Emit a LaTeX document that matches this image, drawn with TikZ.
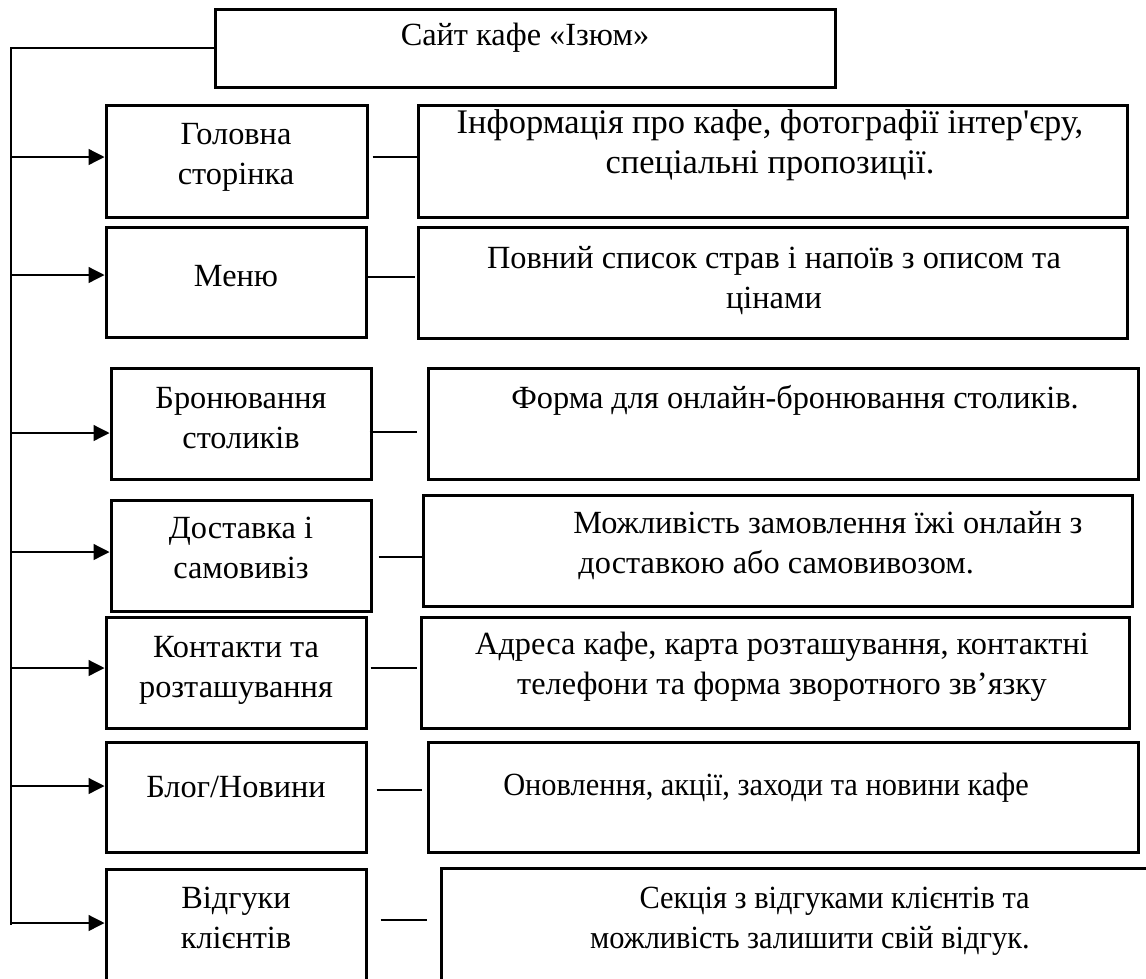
\documentclass[tikz,border=0pt]{standalone}
\usepackage{fontspec}
\setmainfont{Liberation Serif}[Ligatures=TeXOff]
\usetikzlibrary{arrows.meta,fit}

\begin{document}
\begin{tikzpicture}[x=0.2mm,y=-0.2mm,>={Triangle[length=3.2mm,width=3.2mm]},
	bx/.style={draw,line width=0.6mm,inner sep=0pt},
	ln/.style={line width=0.26mm},
	txt/.style={align=center,inner sep=0pt,font=\fontsize{18.4}{22.8}\selectfont},
	narrow/.style={transform shape,xscale=0.94}]
		\useasboundingbox (0,0) rectangle (1146,978);
		% boxes
		\node[bx,fit={(215,9) (835,87)}] (t) {};
		\node[bx,fit={(106,105) (367,217)}] (l1) {};\node[bx,fit={(418,105) (1127,217)}] (r1) {};
		\node[bx,fit={(106,227) (366,337)}] (l2) {};\node[bx,fit={(418,227) (1127,338)}] (r2) {};
		\node[bx,fit={(111,368) (371,479)}] (l3) {};\node[bx,fit={(428,368) (1138,479)}] (r3) {};
		\node[bx,fit={(111,500) (371,611)}] (l4) {};\node[bx,fit={(423,495) (1132,606)}] (r4) {};
		\node[bx,fit={(106,617) (366,728)}] (l5) {};\node[bx,fit={(421,617) (1129,728)}] (r5) {};
		\node[bx,fit={(106,742) (366,852)}] (l6) {};\node[bx,fit={(428,742) (1138,852)}] (r6) {};
		\node[bx,fit={(106,869) (366,1010)}] (l7) {};\node[bx,fit={(441,868) (1170,1010)}] (r7) {};
		% texts
		\node[txt] (t0) at (525,38) {Сайт кафе «Ізюм»};
		\node[txt] (a1) at (236,157) {Головна\\сторінка};\node[txt,font=\fontsize{19.6}{22.8}\selectfont] (b1) at (770,145) {Інформація про кафе, фотографії інтер'єру,\\спеціальні пропозиції.};
		\node[txt] (a2) at (236,276) {Меню};\node[txt] (b2) at (774,281) {Повний список страв і напоїв з описом та\\цінами};
		\node[txt] (a3) at (241,418) {Бронювання\\столиків};\node[txt] (b3) at (795,400) {Форма для онлайн-бронювання столиків.};
		\node[txt] (a4) at (241,548) {Доставка і\\самовивіз};\node[txt,align=left,anchor=west] (b4) at (573,546) {Можливість замовлення їжі онлайн з\\\hspace{1mm}доставкою або самовивозом.};
		\node[txt] (a5) at (236,670) {Контакти та\\розташування};\node[txt] (b5) at (782,667) {Адреса кафе, карта розташування, контактні\\телефони та форма зворотного зв’язку};
		\node[txt] (a6) at (236,787) {Блог/Новини};\node[txt,narrow] (b6) at (766,788) {Оновлення, акції, заходи та новини кафе};
		\node[txt] (a7) at (236,918) {Відгуки\\клієнтів};\node[txt,narrow,align=right,anchor=east] (b7) at (1030,921) {Секція з відгуками клієнтів та\\можливість залишити свій відгук.};
		% spine and arrows
		\coordinate (sp) at (11,48);\coordinate (se) at (11,925);
		\draw[ln] (t.west) -- (sp) -- (se);
		\draw[ln,->] (sp |- 0,157) -- (l1.west |- 0,157);\draw[ln,->] (sp |- 0,275) -- (l2.west |- 0,275);
		\draw[ln,->] (sp |- 0,433) -- (l3.west |- 0,433);\draw[ln,->] (sp |- 0,552) -- (l4.west |- 0,552);
		\draw[ln,->] (sp |- 0,668) -- (l5.west |- 0,668);\draw[ln,->] (sp |- 0,786) -- (l6.west |- 0,786);
		\draw[ln,->] (sp |- 0,923) -- (l7.west |- 0,923);
		% links
		\draw[ln] ([xshift=0.8mm]l1.east |- 0,157) -- ([xshift=0.4mm]r1.west |- 0,157);
		\draw[ln] (l2.east |- 0,277) -- ([xshift=-0.4mm]r2.west |- 0,277);
		\draw[ln] ([xshift=-0.6mm]l3.east |- 0,432) -- ([xshift=-2mm]r3.west |- 0,432);
		\draw[ln] ([xshift=1.2mm]l4.east |- 0,557) -- ([xshift=0.4mm]r4.west |- 0,557);
		\draw[ln] ([xshift=0.6mm]l5.east |- 0,668) -- ([xshift=-0.6mm]r5.west |- 0,668);
		\draw[ln] ([xshift=1.8mm]l6.east |- 0,790) -- ([xshift=-1mm]r6.west |- 0,790);
		\draw[ln] ([xshift=2.6mm]l7.east |- 0,920) -- ([xshift=-2.6mm]r7.west |- 0,920);
	\end{tikzpicture}
\end{document}
